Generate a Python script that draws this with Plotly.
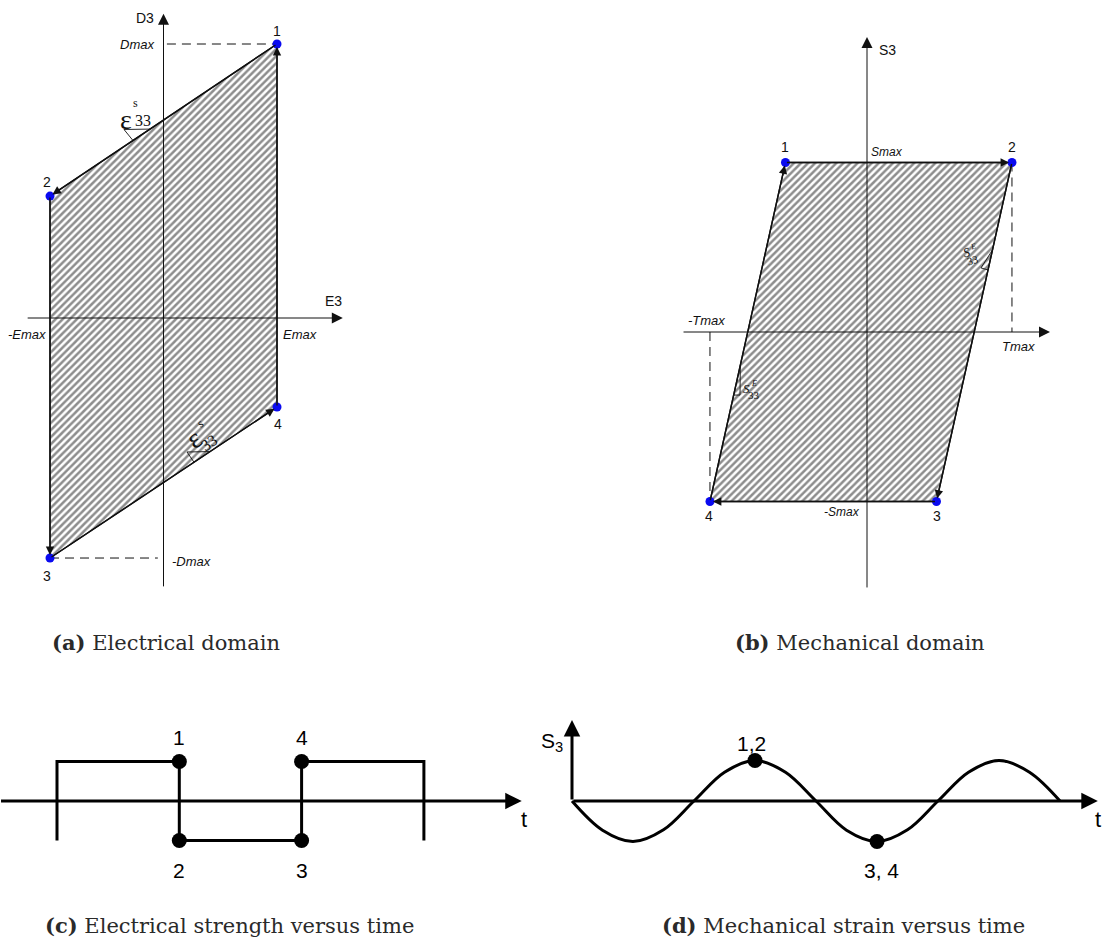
import plotly.graph_objects as go

W, H = 1103, 940

# ---------------- data ----------------
# (a) electrical domain: cycle points 1..4 (E3 in Emax units, D3 in Dmax units)
a_labels = ["1", "2", "3", "4"]
a_E = [1.0, -1.0, -1.0, 1.0]
a_D = [1.0, 0.445, -0.876, -0.325]

# (b) mechanical domain: cycle points 1..4 (T3 in Tmax units, S3 in Smax units)
b_labels = ["1", "2", "3", "4"]
b_T = [-0.54, 0.96, 0.46, -1.04]
b_S = [1.0, 1.0, -1.0, -1.0]

# (c) electric field versus time (square wave)
c_t = [0, 0, 1, 1, 2, 2, 3, 3]
c_E = [-1, 1, 1, -1, -1, 1, 1, -1]
c_pt_labels = ["1", "2", "3", "4"]
c_pt_t = [1, 1, 2, 2]
c_pt_E = [1, -1, -1, 1]

# (d) mechanical strain versus time
d_t = [0, 0.25, 0.5, 0.75, 1.0, 1.25, 1.5, 1.75, 2.0, 2.25, 2.5, 2.75, 3.0, 3.25, 3.5, 3.75, 4.0]
d_S = [0, -0.72, -1.0, -0.71, 0, 0.71, 1.0, 0.71, 0, -0.72, -1.0, -0.71, 0, 0.71, 1.0, 0.71, 0]
d_pt_labels = ["1,2", "3, 4"]
d_pt_t = [1.5, 2.5]
d_pt_S = [1.0, -1.0]


# ---------------- helpers ----------------
def frame(px0, px1, py0, py1, cx, sx, cy, sy):
    """Axis domain/range for a panel box given in page pixels and its origin/scale."""
    return dict(
        xdom=[px0 / W, px1 / W],
        ydom=[1 - py1 / H, 1 - py0 / H],
        xr=[(px0 - cx) / sx, (px1 - cx) / sx],
        yr=[(cy - py1) / sy, (cy - py0) / sy],
    )


panels = {
    "1": frame(0, 360, 0, 600, 163.5, 113.5, 318, 274),
    "2": frame(660, 1103, 0, 600, 867, 151, 332, 169.5),
    "3": frame(0, 550, 690, 900, 57, 122.3, 801, 39.5),
    "4": frame(550, 1103, 690, 900, 572, 122, 801, 40.5),
}

SANS = "Liberation Sans, Arial, sans-serif"
SERIF = "Liberation Serif, DejaVu Serif, serif"
CAPTION = "DejaVu Serif, serif"
BLUE = "#0a0af0"

fig = go.Figure()
ann = []


def ax_names(p):
    return ("x" if p == "1" else "x" + p), ("y" if p == "1" else "y" + p)


def arrow(p, x0, y0, x1, y1, width=1.0, size=2.2, standoff=0, color="#111"):
    xr, yr = ax_names(p)
    ann.append(dict(x=x1, y=y1, ax=x0, ay=y0, xref=xr, yref=yr, axref=xr, ayref=yr,
                    text="", showarrow=True, arrowhead=2, arrowsize=size,
                    arrowwidth=width, arrowcolor=color, standoff=standoff))


def label(p, x, y, text, size=13, family=SANS, italic=False, xanchor="center",
          angle=0, color="#111"):
    xr, yr = ax_names(p)
    if italic:
        text = "<i>" + text + "</i>"
    ann.append(dict(x=x, y=y, xref=xr, yref=yr, text=text, showarrow=False,
                    xanchor=xanchor, yanchor="middle", textangle=angle,
                    font=dict(family=family, size=size, color=color)))


def line(p, xs, ys, width=1.0, dash="solid", color="#111"):
    xr, yr = ax_names(p)
    fig.add_trace(go.Scatter(x=xs, y=ys, mode="lines", xaxis=xr, yaxis=yr,
                             line=dict(color=color, width=width, dash=dash),
                             hoverinfo="skip", showlegend=False))


def on_edge(xa, ya, xb, yb, x):
    return ya + (yb - ya) * (x - xa) / (xb - xa)


hatch = dict(shape="/", size=5, solidity=0.5, fgcolor="#1c1c1c", bgcolor="white")
DASH = "9px,6px"

# ---------------- (a) electrical domain ----------------
fig.add_trace(go.Scatter(x=a_E + a_E[:1], y=a_D + a_D[:1], mode="lines", fill="toself",
                         fillpattern=hatch, fillcolor="white",
                         line=dict(color="#111", width=1.4),
                         xaxis="x", yaxis="y", hoverinfo="skip", showlegend=False))
# Dmax / -Dmax guides
line("1", [0.03, a_E[0]], [a_D[0], a_D[0]], dash=DASH)
line("1", [a_E[2], -0.05], [a_D[2], a_D[2]], dash=DASH)
# slope triangles for eps_33^S
e_top = [-0.348, -0.119, -0.269]
line("1", [e_top[1], e_top[0], e_top[2]],
     [on_edge(a_E[0], a_D[0], a_E[1], a_D[1], e_top[1]), 0.688,
      on_edge(a_E[0], a_D[0], a_E[1], a_D[1], e_top[2])], width=0.9)
e_bot = [0.207, 0.410, 0.269]
line("1", [e_bot[1], e_bot[0], e_bot[2]],
     [on_edge(a_E[2], a_D[2], a_E[3], a_D[3], e_bot[1]), -0.489,
      on_edge(a_E[2], a_D[2], a_E[3], a_D[3], e_bot[2])], width=0.9)
fig.add_trace(go.Scatter(x=a_E, y=a_D, mode="markers", xaxis="x", yaxis="y",
                         marker=dict(color=BLUE, size=9), hoverinfo="skip", showlegend=False))
# axes
arrow("1", -1.21, 0, 1.58, 0, width=1.0, size=2.2)
arrow("1", 0, -0.985, 0, 1.11, width=1.0, size=2.2)
# cycle edges with direction heads
for i in range(4):
    j = (i + 1) % 4
    arrow("1", a_E[i], a_D[i], a_E[j], a_D[j], width=1.4, size=1.2, standoff=3)
label("1", -0.163, 1.095, "D3", size=14)
label("1", 1.502, 0.062, "E3", size=14)
label("1", -0.066, 1.0, "Dmax", size=13, italic=True, xanchor="right")
label("1", 0.057, -0.887, "-Dmax", size=13, italic=True, xanchor="left")
label("1", -1.203, -0.062, "-Emax", size=13, italic=True)
label("1", 1.203, -0.062, "Emax", size=13, italic=True)
for txt, x, y in zip(a_labels, [1.0, -1.026, -1.026, 1.009], [1.047, 0.496, -0.942, -0.387]):
    label("1", x, y, txt, size=14)
label("1", -0.33, 0.725, "ε", size=28, family=SERIF)
label("1", -0.25, 0.785, "s", size=12, family=SERIF)
label("1", -0.18, 0.722, "33", size=16, family=SERIF)
label("1", 0.27, -0.44, "ε", size=28, family=SERIF, angle=-34)
label("1", 0.33, -0.385, "s", size=12, family=SERIF, angle=-34)
label("1", 0.405, -0.455, "33", size=16, family=SERIF, angle=-34)

# ---------------- (b) mechanical domain ----------------
order_b = [3, 0, 1, 2]
fig.add_trace(go.Scatter(x=[b_T[k] for k in order_b] + [b_T[3]],
                         y=[b_S[k] for k in order_b] + [b_S[3]],
                         mode="lines", fill="toself", fillpattern=hatch, fillcolor="white",
                         line=dict(color="#111", width=1.4),
                         xaxis="x2", yaxis="y2", hoverinfo="skip", showlegend=False))
line("2", [b_T[1], b_T[1]], [b_S[1], 0], dash=DASH)
line("2", [b_T[3], b_T[3]], [0, b_S[3]], dash=DASH)
# slope triangles for s_33^E
line("2", [on_edge(b_S[3], b_T[3], b_S[0], b_T[0], -0.195), -0.841,
           on_edge(b_S[3], b_T[3], b_S[0], b_T[0], -0.372)],
     [-0.195, -0.372, -0.372], width=0.9)
line("2", [on_edge(b_S[1], b_T[1], b_S[2], b_T[2], 0.484), 0.755,
           on_edge(b_S[1], b_T[1], b_S[2], b_T[2], 0.366)],
     [0.484, 0.378, 0.366], width=0.9)
fig.add_trace(go.Scatter(x=b_T, y=b_S, mode="markers", xaxis="x2", yaxis="y2",
                         marker=dict(color=BLUE, size=9), hoverinfo="skip", showlegend=False))
arrow("2", -1.225, 0, 1.212, 0, width=1.0, size=2.2)
arrow("2", 0, -1.516, 0, 1.74, width=1.0, size=2.2)
for i, j in [(3, 0), (0, 1), (1, 2), (2, 3)]:
    arrow("2", b_T[i], b_S[i], b_T[j], b_S[j], width=1.4, size=1.2, standoff=3)
label("2", 0.066, 1.664, "S3", size=14, xanchor="left")
label("2", 0.013, 1.062, "Smax", size=12, italic=True, xanchor="left")
label("2", -0.033, -1.062, "-Smax", size=12, italic=True, xanchor="right")
label("2", -1.060, 0.065, "-Tmax", size=13, italic=True)
label("2", 1.0, -0.083, "Tmax", size=13, italic=True)
for txt, x, y in zip(b_labels, [-0.543, 0.960, 0.464, -1.046], [1.091, 1.091, -1.086, -1.086]):
    label("2", x, y, txt, size=14)
label("2", -0.795, -0.336, "S", size=13, family=SERIF, italic=True)
label("2", -0.748, -0.301, "E", size=8, family=SERIF, italic=True)
label("2", -0.748, -0.372, "33", size=11, family=SERIF)
label("2", 0.656, 0.472, "S", size=13, family=SERIF, italic=True, angle=-15)
label("2", 0.702, 0.507, "E", size=8, family=SERIF, italic=True, angle=-15)
label("2", 0.702, 0.425, "33", size=11, family=SERIF, angle=-15)

# ---------------- (c) electric field versus time ----------------
fig.add_trace(go.Scatter(x=c_t, y=c_E, mode="lines", xaxis="x3", yaxis="y3",
                         line=dict(color="black", width=3), hoverinfo="skip", showlegend=False))
fig.add_trace(go.Scatter(x=c_pt_t, y=c_pt_E, mode="markers", xaxis="x3", yaxis="y3",
                         marker=dict(color="black", size=15), hoverinfo="skip", showlegend=False))
arrow("3", -0.47, 0, 3.80, 0, width=3, size=1.1, color="black")
for txt, x, y in zip(c_pt_labels, c_pt_t, c_pt_E):
    label("3", x, 1.62 if y > 0 else -1.77, txt, size=21, color="black")
label("3", 3.818, -0.48, "t", size=22, color="black")

# ---------------- (d) mechanical strain versus time ----------------
fig.add_trace(go.Scatter(x=d_t, y=d_S, mode="lines", line_shape="spline", xaxis="x4", yaxis="y4",
                         line=dict(color="black", width=3, smoothing=1.0),
                         hoverinfo="skip", showlegend=False))
fig.add_trace(go.Scatter(x=d_pt_t, y=d_pt_S, mode="markers", xaxis="x4", yaxis="y4",
                         marker=dict(color="black", size=15), hoverinfo="skip", showlegend=False))
arrow("4", 0, 0, 4.31, 0, width=3, size=1.1, color="black")
arrow("4", 0, 0, 0, 2.0, width=3, size=1.1, color="black")
label("4", -0.164, 1.457, "S<sub>3</sub>", size=21, color="black")
label("4", 1.475, 1.42, d_pt_labels[0], size=21, color="black")
label("4", 2.533, -1.704, d_pt_labels[1], size=21, color="black")
label("4", 4.31, -0.469, "t", size=22, color="black")

# ---------------- captions ----------------
captions = [
    (166, 642, "<b>(a)</b> Electrical domain"),
    (860, 642, "<b>(b)</b> Mechanical domain"),
    (229, 925, "<b>(c)</b> Electrical strength versus time"),
    (843, 925, "<b>(d)</b> Mechanical strain versus time"),
]
for px, py, txt in captions:
    ann.append(dict(x=px / W, y=1 - py / H, xref="paper", yref="paper", text=txt,
                    showarrow=False, xanchor="center", yanchor="middle",
                    font=dict(family=CAPTION, size=21, color="#2a2a2a")))

layout = dict(width=W, height=H, margin=dict(l=0, r=0, t=0, b=0),
              paper_bgcolor="white", plot_bgcolor="white", showlegend=False,
              annotations=ann)
for p, f in panels.items():
    xk = "xaxis" if p == "1" else "xaxis" + p
    yk = "yaxis" if p == "1" else "yaxis" + p
    xr, yr = ax_names(p)
    layout[xk] = dict(domain=f["xdom"], range=f["xr"], visible=False, anchor=yr, fixedrange=True)
    layout[yk] = dict(domain=f["ydom"], range=f["yr"], visible=False, anchor=xr, fixedrange=True)
fig.update_layout(**layout)

fig.write_html("out.html")
